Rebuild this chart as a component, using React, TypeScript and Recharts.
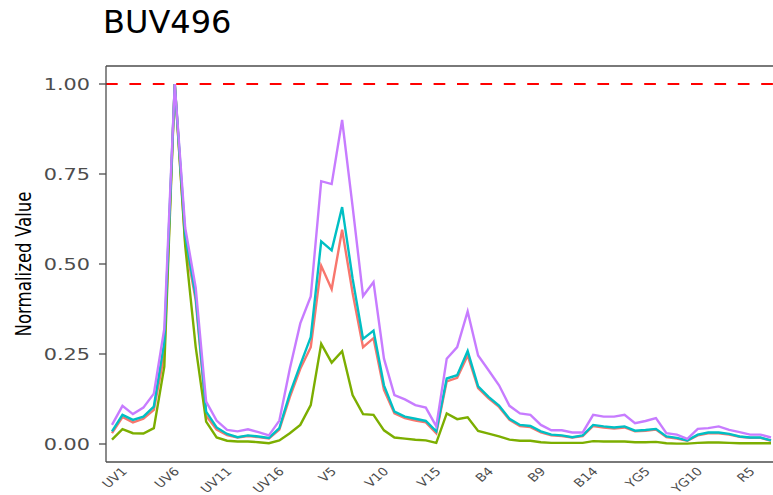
import React from 'react';
import { LineChart, Line, XAxis, YAxis, ReferenceLine } from 'recharts';

const channels: string[] = [
  'UV1','UV2','UV3','UV4','UV5','UV6','UV7','UV8','UV9','UV10','UV11','UV12','UV13','UV14','UV15','UV16',
  'V1','V2','V3','V4','V5','V6','V7','V8','V9','V10','V11','V12','V13','V14','V15','V16',
  'B1','B2','B3','B4','B5','B6','B7','B8','B9','B10','B11','B12','B13','B14',
  'YG1','YG2','YG3','YG4','YG5','YG6','YG7','YG8','YG9','YG10',
  'R1','R2','R3','R4','R5','R6','R7','R8',
];

const seriesRed: number[] = [
  0.030, 0.075, 0.060, 0.070, 0.095, 0.250, 1.000, 0.560, 0.400, 0.078, 0.040, 0.025, 0.018, 0.022, 0.019, 0.015,
  0.040, 0.130, 0.209, 0.269, 0.495, 0.430, 0.595, 0.420, 0.269, 0.294, 0.150, 0.085, 0.072, 0.065, 0.060, 0.030,
  0.174, 0.184, 0.246, 0.155, 0.127, 0.103, 0.067, 0.050, 0.047, 0.032, 0.024, 0.022, 0.018, 0.022,
  0.050, 0.046, 0.043, 0.046, 0.035, 0.037, 0.040, 0.019, 0.015, 0.009,
  0.024, 0.030, 0.030, 0.026, 0.020, 0.017, 0.017, 0.009,
];

const seriesGreen: number[] = [
  0.012, 0.041, 0.030, 0.029, 0.044, 0.215, 1.000, 0.550, 0.270, 0.062, 0.018, 0.009, 0.007, 0.007, 0.005, 0.002,
  0.010, 0.030, 0.053, 0.108, 0.278, 0.226, 0.258, 0.136, 0.083, 0.081, 0.038, 0.018, 0.015, 0.012, 0.010, 0.003,
  0.085, 0.069, 0.074, 0.036, 0.029, 0.021, 0.012, 0.009, 0.009, 0.005, 0.003, 0.003, 0.003, 0.003,
  0.008, 0.007, 0.007, 0.007, 0.005, 0.005, 0.006, 0.002, 0.001, 0.001,
  0.003, 0.004, 0.004, 0.003, 0.002, 0.002, 0.002, 0.002,
];

const seriesCyan: number[] = [
  0.035, 0.081, 0.067, 0.076, 0.104, 0.283, 1.000, 0.580, 0.410, 0.090, 0.046, 0.028, 0.019, 0.024, 0.021, 0.017,
  0.044, 0.140, 0.220, 0.297, 0.563, 0.538, 0.658, 0.460, 0.292, 0.315, 0.163, 0.090, 0.076, 0.070, 0.064, 0.035,
  0.182, 0.191, 0.258, 0.160, 0.131, 0.107, 0.070, 0.053, 0.050, 0.035, 0.026, 0.024, 0.019, 0.024,
  0.053, 0.049, 0.046, 0.049, 0.037, 0.039, 0.042, 0.021, 0.017, 0.010,
  0.026, 0.032, 0.032, 0.028, 0.021, 0.018, 0.018, 0.010,
];

const seriesPurple: number[] = [
  0.053, 0.106, 0.083, 0.101, 0.140, 0.320, 1.000, 0.600, 0.435, 0.118, 0.065, 0.039, 0.035, 0.041, 0.033, 0.024,
  0.065, 0.209, 0.335, 0.410, 0.730, 0.722, 0.900, 0.660, 0.411, 0.450, 0.237, 0.136, 0.124, 0.108, 0.101, 0.049,
  0.237, 0.269, 0.368, 0.246, 0.205, 0.163, 0.106, 0.085, 0.081, 0.053, 0.038, 0.038, 0.032, 0.032,
  0.081, 0.076, 0.076, 0.081, 0.058, 0.064, 0.072, 0.030, 0.026, 0.014,
  0.042, 0.044, 0.049, 0.039, 0.033, 0.026, 0.026, 0.018,
];

const yTicks: number[] = [0, 0.25, 0.5, 0.75, 1];

const data = channels.map((ch, i) => ({
  channel: ch,
  s1: seriesRed[i],
  s2: seriesGreen[i],
  s3: seriesCyan[i],
  s4: seriesPurple[i],
}));

const FONT = '"DejaVu Sans", sans-serif';

const XTick = (props: any) => {
  const { x, y, payload } = props;
  const bx = x + 16;
  const by = y + 10;
  return (
    <g transform={`translate(${bx},${by}) scale(1.2,1) rotate(-45)`}>
      <text x={0} y={0} textAnchor="end" fontSize={11.5} fontFamily={FONT} fill="#4d4d4d">
        {payload.value}
      </text>
    </g>
  );
};

const YTick = (props: any) => {
  const { x, y, payload } = props;
  return (
    <g transform={`translate(${x},${y}) scale(1.3,1)`}>
      <text x={0} y={0} dy="0.36em" textAnchor="end" fontSize={16} fontFamily={FONT} fill="#4d4d4d">
        {Number(payload.value).toFixed(2)}
      </text>
    </g>
  );
};

const YTitle = () => (
  <g transform={`translate(31,264) scale(1.3,1) rotate(-90)`}>
    <text x={0} y={0} textAnchor="middle" fontSize={16.6} fontFamily={FONT} fill="#000">
      Normalized Value
    </text>
  </g>
);

export default function App() {
  return (
    <div
      style={{
        position: 'fixed',
        left: 0,
        top: 0,
        width: 773,
        height: 495,
        overflow: 'hidden',
        background: '#fff',
      }}
    >
      <div
        style={{
          position: 'absolute',
          left: 103,
          top: 6,
          fontFamily: FONT,
          fontSize: 32,
          lineHeight: '32px',
          color: '#000',
          whiteSpace: 'nowrap',
        }}
      >
        BUV496
      </div>
      <div style={{ position: 'absolute', left: 0, top: 0 }}>
        <LineChart
          width={800}
          height={495}
          data={data}
          margin={{ top: 66, right: 23, bottom: 0, left: 0 }}
        >
          <XAxis
            dataKey="channel"
            interval={4}
            tickLine={false}
            tickSize={0}
            tickMargin={0}
            height={33}
            padding={{ left: 6, right: 6 }}
            axisLine={{ stroke: '#4d4d4d', strokeWidth: 1.3 }}
            tick={<XTick />}
          />
          <YAxis
            type="number"
            domain={[-0.05, 1.05]}
            ticks={yTicks}
            allowDataOverflow
            width={106}
            tickSize={7}
            tickMargin={9}
            tickLine={{ stroke: '#4d4d4d', strokeWidth: 1.3 }}
            axisLine={{ stroke: '#4d4d4d', strokeWidth: 1.3 }}
            tick={<YTick />}
            label={{ content: () => <YTitle /> }}
          />
          <ReferenceLine y={1.05} stroke="#4d4d4d" strokeWidth={1.3} />
          <ReferenceLine y={1} stroke="#FF0000" strokeWidth={2} strokeDasharray="11.7 11.7" />
          <Line dataKey="s1" name="Red" stroke="#F8766D" strokeWidth={2.4} dot={false} isAnimationActive={false} />
          <Line dataKey="s2" name="Green" stroke="#7CAE00" strokeWidth={2.4} dot={false} isAnimationActive={false} />
          <Line dataKey="s3" name="Cyan" stroke="#00BFC4" strokeWidth={2.4} dot={false} isAnimationActive={false} />
          <Line dataKey="s4" name="Purple" stroke="#C77CFF" strokeWidth={2.4} dot={false} isAnimationActive={false} />
        </LineChart>
      </div>
    </div>
  );
}
